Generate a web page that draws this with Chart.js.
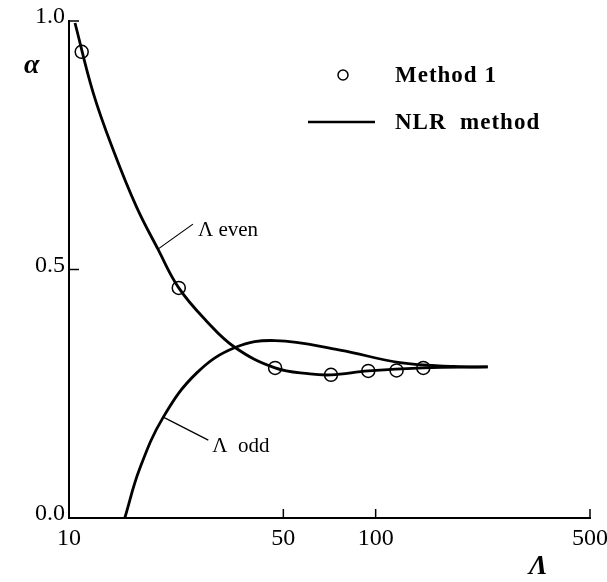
<!DOCTYPE html>
<html>
<head>
<meta charset="utf-8">
<title>alpha vs Lambda</title>
<script src="https://cdn.jsdelivr.net/npm/chart.js@4.4.0/dist/chart.umd.min.js"></script>
<style>
  html, body { margin: 0; padding: 0; background: #fff; }
  #wrap { width: 607px; height: 582px; position: relative; }
</style>
</head>
<body>
<div id="wrap"><canvas id="chart"></canvas></div>
<script>
'use strict';

/* ── Data ─────────────────────────────────────────────────── */
const xTicks = [10, 50, 100, 500];
const yTicks = [0, 0.5, 1.0];

// Method 1 – circles
const method1X = [11.0, 22.8, 47.0, 71.5, 94.6, 117, 143];
const method1Y = [0.938, 0.463, 0.302, 0.288, 0.296, 0.297, 0.302];

// NLR method, Lambda even
const evenX = [10.46, 12.0, 13.95, 16.6, 19.5, 22.8, 28.1, 34.8, 47.0, 61.1, 71.5, 94.6, 143, 232];
const evenY = [0.996, 0.855, 0.740, 0.626, 0.541, 0.463, 0.396, 0.343, 0.302, 0.290, 0.288, 0.296, 0.302, 0.304];

// NLR method, Lambda odd
const oddX = [15.2, 17.0, 20.3, 26.1, 34.8, 47.0, 76.5, 120, 180, 232];
const oddY = [0.0, 0.099, 0.203, 0.292, 0.343, 0.357, 0.338, 0.3125, 0.305, 0.304];

const toPoints = (xs, ys) => xs.map((x, i) => ({ x, y: ys[i] }));

const SERIF = '"Liberation Serif", "DejaVu Serif", serif';

/* ── Annotations: inward ticks, curve labels, legend ─────── */
const figurePlugin = {
  id: 'figure',
  afterDraw(chart) {
    const { ctx, scales: { x, y } } = chart;
    ctx.save();
    ctx.strokeStyle = '#000';
    ctx.fillStyle = '#000';

    // inward tick marks
    ctx.lineWidth = 1.5;
    xTicks.slice(1).forEach(v => {
      const px = x.getPixelForValue(v);
      ctx.beginPath(); ctx.moveTo(px, y.bottom); ctx.lineTo(px, y.bottom - 9); ctx.stroke();
    });
    yTicks.slice(1).forEach(v => {
      const py = y.getPixelForValue(v);
      ctx.beginPath(); ctx.moveTo(x.left, py); ctx.lineTo(x.left + 10, py); ctx.stroke();
    });

    // curve labels with leader lines
    ctx.lineWidth = 1.2;
    ctx.font = '21px ' + SERIF;
    ctx.textBaseline = 'middle';
    ctx.textAlign = 'left';
    let px = x.getPixelForValue(19.5), py = y.getPixelForValue(0.541);
    ctx.beginPath(); ctx.moveTo(px, py); ctx.lineTo(px + 35, py - 25); ctx.stroke();
    ctx.fillText('\u039B even', px + 40, py - 19);

    px = x.getPixelForValue(20.3); py = y.getPixelForValue(0.203);
    ctx.beginPath(); ctx.moveTo(px, py); ctx.lineTo(px + 45, py + 23); ctx.stroke();
    ctx.fillText('\u039B  odd', px + 49, py + 29);

    // legend
    ctx.font = 'bold 23px ' + SERIF;
    ctx.letterSpacing = '1px';
    ctx.lineWidth = 1.5;
    ctx.beginPath(); ctx.arc(343, 75, 5, 0, Math.PI * 2); ctx.stroke();
    ctx.fillText('Method 1', 395, 76);
    ctx.lineWidth = 2.5;
    ctx.beginPath(); ctx.moveTo(308, 122); ctx.lineTo(375, 122); ctx.stroke();
    ctx.fillText('NLR  method', 395, 123);
    ctx.letterSpacing = '0px';

    // axis titles
    ctx.font = 'italic bold 28px ' + SERIF;
    ctx.fillText('\u03B1', 24, 66);
    ctx.fillText('\u039B', 529, 567);
    ctx.restore();
  }
};

/* ── Chart ───────────────────────────────────────────────── */
const lineStyle = {
  borderColor: '#000',
  borderWidth: 2.8,
  pointRadius: 0,
  fill: false,
  tension: 0.4
};

new Chart(document.getElementById('chart'), {
  type: 'scatter',
  data: {
    datasets: [
      { label: 'Lambda even', data: toPoints(evenX, evenY), showLine: true, ...lineStyle },
      { label: 'Lambda odd', data: toPoints(oddX, oddY), showLine: true, ...lineStyle },
      {
        label: 'Method 1',
        data: toPoints(method1X, method1Y),
        showLine: false,
        pointRadius: 6.5,
        pointBackgroundColor: '#fff',
        pointBorderColor: '#000',
        pointBorderWidth: 1.5
      }
    ]
  },
  options: {
    responsive: true, maintainAspectRatio: false,
    animation: false,
    layout: { padding: { top: 21, right: 17, left: 0, bottom: 0 } },
    plugins: { legend: { display: false }, tooltip: { enabled: false } },
    scales: {
      x: {
        type: 'logarithmic',
        min: 10, max: 500,
        afterBuildTicks: s => { s.ticks = xTicks.map(v => ({ value: v })); },
        afterFit: s => { s.height = 64; s.paddingLeft = 0; s.paddingRight = 0; },
        grid: { display: false, drawTicks: false },
        border: { display: true, color: '#000', width: 2 },
        ticks: {
          autoSkip: false, maxRotation: 0, padding: 6,
          color: '#000', font: { family: SERIF, size: 24 },
          callback: v => String(v)
        }
      },
      y: {
        min: 0, max: 1,
        afterBuildTicks: s => { s.ticks = yTicks.map(v => ({ value: v })); },
        afterFit: s => { s.width = 69; s.paddingTop = 0; s.paddingBottom = 0; },
        grid: { display: false, drawTicks: false },
        border: { display: true, color: '#000', width: 2 },
        ticks: {
          padding: 4, labelOffset: -4,
          color: '#000', font: { family: SERIF, size: 24 },
          callback: v => v.toFixed(1)
        }
      }
    }
  },
  plugins: [figurePlugin]
});
</script>
</body>
</html>
